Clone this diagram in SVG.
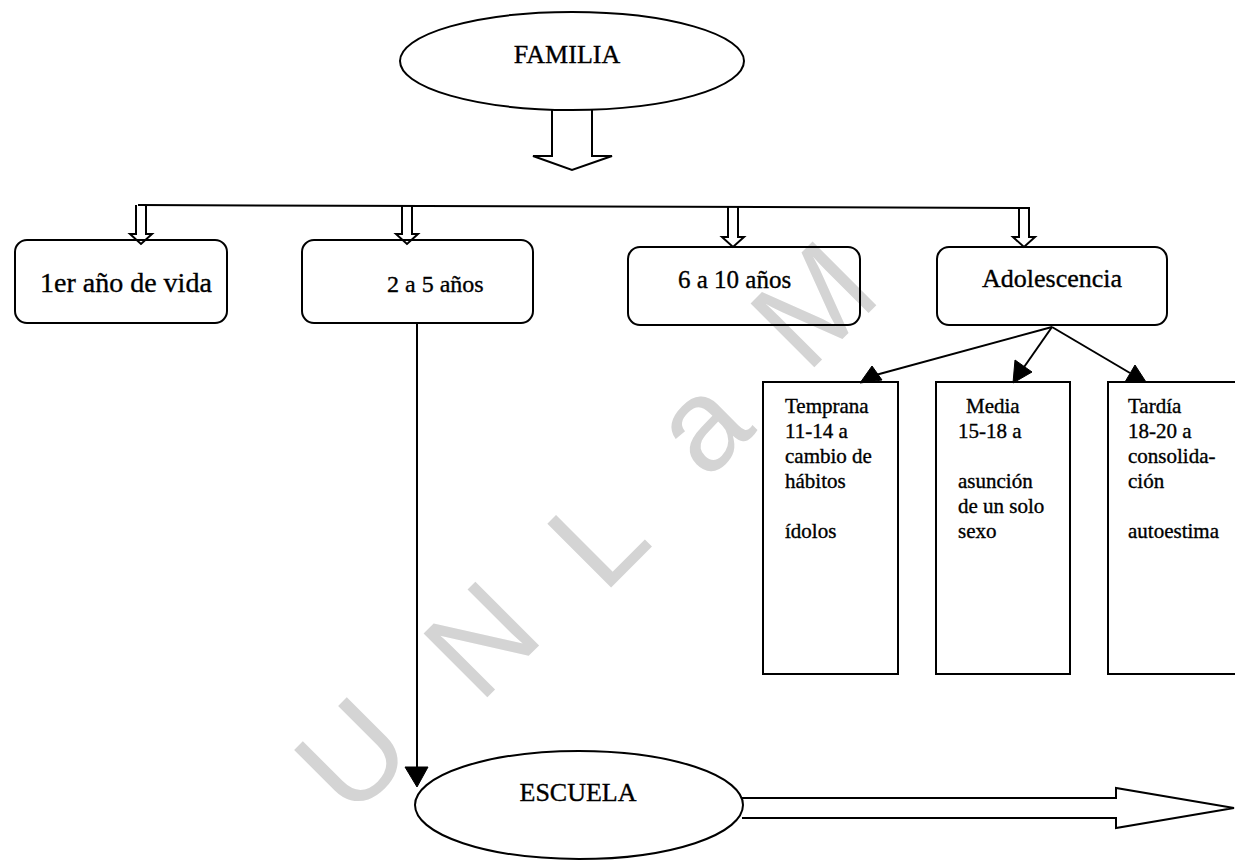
<svg xmlns="http://www.w3.org/2000/svg" width="1235" height="862" viewBox="0 0 1235 862">
  <style>
    .shape { fill: none; stroke: #000; stroke-width: 2; }
    .line { fill: none; stroke: #000; stroke-width: 2; }
    .head { fill: #000; stroke: #000; stroke-width: 1; }
    .label { font-family: "Liberation Serif", "Times New Roman", serif; fill: #000; stroke: #000; stroke-width: 0.35; }
    .big { font-size: 26px; }
    .small { font-size: 21px; }
    .wm { font-family: "Liberation Sans", Arial, sans-serif; font-size: 131px; fill: #d4d4d4; text-anchor: middle; }
  </style>

  <rect x="0" y="0" width="1235" height="862" fill="#fff"/>

  <!-- background letters -->
  <g id="watermark">
    <text class="wm" transform="translate(351,754) rotate(-45)" y="47">U</text>
    <text class="wm" transform="translate(480,638) rotate(-45)" y="47">N</text>
    <text class="wm" transform="translate(596,536) rotate(-45)" y="47">L</text>
    <text class="wm" transform="translate(708,432) rotate(-45)" y="34">a</text>
    <text class="wm" transform="translate(812,303) rotate(-45)" y="47">M</text>
  </g>

  <g id="node-familia">
    <ellipse class="shape" cx="572" cy="61" rx="172" ry="49"/>
    <text class="label big" x="567" y="63" text-anchor="middle">FAMILIA</text>
  </g>

  <g id="node-primer-anio">
    <rect class="shape" x="15" y="240" width="212" height="83" rx="12"/>
    <text class="label" font-size="28" x="40" y="292">1er año de vida</text>
  </g>

  <g id="node-2a5">
    <rect class="shape" x="302" y="240" width="231" height="83" rx="12"/>
    <text class="label" font-size="24" x="387" y="292">2 a 5 años</text>
  </g>

  <g id="node-6a10">
    <rect class="shape" x="628" y="247" width="232" height="78" rx="12"/>
    <text class="label" font-size="25" x="678" y="288">6 a 10 años</text>
  </g>

  <g id="node-adolescencia">
    <rect class="shape" x="937" y="247" width="230" height="78" rx="12"/>
    <text class="label big" x="982" y="287">Adolescencia</text>
  </g>

  <g id="node-temprana">
    <rect class="shape" x="763" y="382" width="135" height="292"/>
    <text class="label small">
      <tspan x="785" y="413">Temprana</tspan>
      <tspan x="785" y="438">11-14 a</tspan>
      <tspan x="785" y="463">cambio de</tspan>
      <tspan x="785" y="488">hábitos</tspan>
      <tspan x="785" y="538">ídolos</tspan>
    </text>
  </g>

  <g id="node-media">
    <rect class="shape" x="936" y="382" width="134" height="292"/>
    <text class="label small">
      <tspan x="966" y="413">Media</tspan>
      <tspan x="958" y="438">15-18 a</tspan>
      <tspan x="958" y="488">asunción</tspan>
      <tspan x="958" y="513">de un solo</tspan>
      <tspan x="958" y="538">sexo</tspan>
    </text>
  </g>

  <g id="node-tardia">
    <rect class="shape" x="1108" y="382" width="140" height="292"/>
    <text class="label small">
      <tspan x="1128" y="413">Tardía</tspan>
      <tspan x="1128" y="438">18-20 a</tspan>
      <tspan x="1128" y="463">consolida-</tspan>
      <tspan x="1128" y="488">ción</tspan>
      <tspan x="1128" y="538">autoestima</tspan>
    </text>
  </g>

  <g id="node-escuela">
    <ellipse class="shape" cx="579" cy="805" rx="164" ry="54"/>
    <text class="label big" x="578" y="801" text-anchor="middle">ESCUELA</text>
  </g>

  <g id="connectors">
    <!-- wide hollow arrow out of FAMILIA -->
    <path class="line" d="M552,109 V156 H533 L572,170 L612,156 H592 V109"/>

    <!-- distribution bar -->
    <line class="line" x1="138" y1="205" x2="1030" y2="208"/>

    <!-- hollow branch arrows -->
    <path class="line" d="M136,205 V234 H130 L141,244 L152,234 H146 V205"/>
    <path class="line" d="M402,206 V234 H396 L407,244 L418,234 H412 V206"/>
    <path class="line" d="M728,207 V237 H722 L733,247 L744,237 H738 V207"/>
    <path class="line" d="M1019,208 V237 H1013 L1024,247 L1035,237 H1029 V208"/>

    <!-- 2 a 5 años down to ESCUELA -->
    <line class="line" x1="417" y1="323" x2="417" y2="768"/>
    <polygon class="head" points="405,767 428,767 417,787"/>

    <!-- Adolescencia to its three stages -->
    <line class="line" x1="1052" y1="327" x2="872" y2="376"/>
    <polygon class="head" points="860,383 872,366 882,380"/>
    <line class="line" x1="1052" y1="327" x2="1022" y2="370"/>
    <polygon class="head" points="1013,383 1015,360 1032,372"/>
    <line class="line" x1="1052" y1="327" x2="1130" y2="373"/>
    <polygon class="head" points="1135,365 1125,382 1146,382"/>

    <!-- wide hollow arrow out of ESCUELA -->
    <path class="line" d="M742,798 H1116 V788 L1234,808 L1116,828 V818 H742"/>
  </g>
</svg>
